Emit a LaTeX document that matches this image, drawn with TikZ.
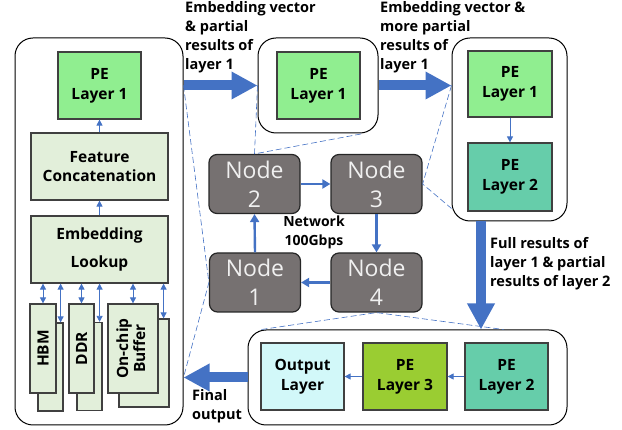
\documentclass[tikz,border=0pt]{standalone}
\usepackage{fontspec}
\usepackage{graphicx}
\setmainfont{Open Sans}
\usetikzlibrary{arrows.meta,positioning,calc}

\definecolor{linkblue}{HTML}{4472C4}
\definecolor{peone}{HTML}{90EE90}
\definecolor{petwo}{HTML}{66CDAA}
\definecolor{pethree}{HTML}{9ACD32}
\definecolor{outcyan}{HTML}{D2F8F9}
\definecolor{memgreen}{HTML}{E2EFDA}
\definecolor{nodegray}{HTML}{767171}

\begin{document}
\begin{tikzpicture}[
      x=1pt, y=-1pt,
      frame/.style = {
        draw=black,
        line width=1pt,
        rounded corners=18pt,
        inner sep=0pt
      },
      block/.style = {
        draw=black!75,
        line width=1.2pt,
        inner sep=0pt,
        align=center,
        minimum width=83pt,
        minimum height=67pt,
        font=\fontsize{15.5}{20}\selectfont\bfseries
      },
      unit/.style = {
        block,
        fill=memgreen,
        minimum width=137pt,
        font=\fontsize{15.5}{19}\selectfont\bfseries
      },
      mem/.style = {
        block,
        fill=memgreen,
        minimum height=89pt,
        font=\fontsize{15.5}{18}\selectfont\bfseries
      },
      server/.style = {
        draw=black!85,
        fill=nodegray,
        line width=1.2pt,
        rounded corners=8pt,
        minimum width=91pt,
        minimum height=59pt,
        inner sep=0pt,
        align=center,
        text=white!94!black,
        font=\fontsize{23}{29}\selectfont
      },
      caption/.style = {
        align=left,
        inner sep=0pt,
        anchor=north west,
        font=\fontsize{14.5}{19}\selectfont\bfseries
      },
      thin/.style = {
        draw=linkblue,
        line width=0.8pt,
        -{Triangle[length=6pt,width=6pt]}
      },
      both/.style = {
        thin,
        {Triangle[length=6pt,width=6pt]}-{Triangle[length=6pt,width=6pt]}
      },
      link/.style = {
        draw=linkblue,
        line width=2.4pt,
        -{Triangle[length=8pt,width=9pt]}
      },
      flow/.style = {
        draw=linkblue,
        line width=10pt,
        -{Triangle[length=26pt,width=26pt]}
      },
      zoomline/.style = {
        draw=linkblue,
        line width=0.6pt,
        dash pattern=on 6pt off 3pt
      }
    ]
    \useasboundingbox (0,0) rectangle (622,430);

    \node[frame, minimum width=168pt, minimum height=387pt] (host) at (99,231.5) {};
    \node[block, fill=peone] (peA) at (99.5,85.5) {PE\\Layer 1};
    \node[unit] (concat) at (99.5,166.5) {Feature\\Concatenation};
    \node[unit, font=\fontsize{15.5}{28}\selectfont\bfseries] (lookup) at (99.5,249.5) {Embedding\\Lookup};

    \node[mem, minimum width=25pt, minimum height=88pt] (hbmB) at (50.5,367) {};
    \node[mem, minimum width=25pt, minimum height=88pt] (ddrB) at (89.5,366.5) {};
    \node[mem, minimum width=50pt, minimum height=88pt] (bufB) at (144,363) {};
    \node[mem, minimum width=26pt] (hbm) at (43,348.5) {\rotatebox{90}{HBM}};
    \node[mem, minimum width=25pt] (ddr) at (81.5,348.5) {\rotatebox{90}{DDR}};
    \node[mem, minimum width=50pt] (buf) at (133,348.5)
      {\rotatebox{90}{\begin{tabular}{@{}c@{}}On-chip\\[-1pt]Buffer\end{tabular}}};

    \node[frame, minimum width=120pt, minimum height=95pt] (hopA) at (318,85.5) {};
    \node[block, fill=peone] (peB) at (318.5,85.5) {PE\\Layer 1};

    \node[frame, minimum width=115pt, minimum height=183pt] (hopB) at (509.5,129.5) {};
    \node[block, fill=peone, minimum width=84pt, minimum height=66pt] (peC) at (510,84) {PE\\Layer 1};
    \node[block, fill=petwo, minimum width=84pt, minimum height=68pt] (peD) at (510,177) {PE\\Layer 2};

    \node[frame, minimum width=319pt, minimum height=95pt] (hopC) at (407.5,377.5) {};
    \node[block, fill=outcyan] (outL) at (302.5,376.5) {Output\\Layer};
    \node[block, fill=pethree, minimum width=84pt] (peE) at (405,376.5) {PE\\Layer 3};
    \node[block, fill=petwo] (peF) at (506.5,376.5) {PE\\Layer 2};

    \node[server] (srv2) at (254.5,184) {Node\\2};
    \node[server] (srv3) at (376.5,184) {Node\\3};
    \node[server] (srv1) at (255,282.5) {Node\\1};
    \node[server] (srv4) at (376.5,282.5) {Node\\4};
    \node[align=center, inner sep=0pt, font=\fontsize{14}{19}\selectfont\bfseries] (net) at (314,232) {Network\\100Gbps};

    \node[caption] (capA) at (185,1) {Embedding vector\\\& partial\\results of\\layer 1};
    \node[caption] (capB) at (380,1) {Embedding vector \&\\more partial\\results of\\layer 1};
    \node[caption] (capC) at (490,237) {Full results of\\layer 1 \& partial\\results of layer 2};
    \node[caption] (capD) at (192,389) {Final\\output};

    \coordinate (downTop) at ($(hopB.south)+(-28.5,0)$);
    \coordinate (downEnd) at (downTop |- hopC.north);

    \draw[thin] (concat.north) -- (peA.south);
    \draw[thin] (lookup.north) -- (concat.south);
    \draw[both] (lookup.south -| hbm.north) -- (hbm.north);
    \draw[both] (lookup.south -| ddr.north) -- (ddr.north);
    \draw[both] (lookup.south -| buf.north) -- (buf.north);
    \draw[both] (lookup.south -| {$(hbmB.north east)+(-3,0)$}) -- ($(hbmB.north east)+(-3,0)$);
    \draw[both] (lookup.south -| {$(ddrB.north east)+(-3,0)$}) -- ($(ddrB.north east)+(-3,0)$);
    \draw[both] (lookup.south -| {$(bufB.north east)+(-6,0)$}) -- ($(bufB.north east)+(-6,0)$);
    \draw[thin] (peC.south) -- (peD.north);
    \draw[thin] (peF.west) -- (peE.east);
    \draw[thin] (peE.west) -- (outL.east);

    \draw[link] (srv2.east) -- (srv3.west);
    \draw[link] (srv3.south) -- (srv4.north);
    \draw[link] (srv4.west) -- (srv1.east);
    \draw[link] (srv1.north) -- (srv2.south);

    \draw[flow] (peA -| host.east) -- (hopA.west);
    \draw[flow] (hopA.east) -- (hopA.east -| hopB.west);
    \draw[flow] (downTop) -- (downEnd);
    \draw[flow] (hopC.west) -- (hopC.west -| host.east);

    \draw[zoomline] (peA -| host.east) -- (srv1.west) -- (hopC.west -| host.east);
    \draw[zoomline] (hopA.west) -- (srv2.north) -- ($(hopA.south east)+(-15,0)$);
    \draw[zoomline] (hopA.east -| hopB.west) -- (srv3.east) -- ($(hopB.south west)+(0,-13)$);
    \draw[zoomline] ($(hopC.north west)+(14,0)$) -- (srv4.south) -- ($(hopC.north east)+(-64,0)$);
  \end{tikzpicture}
\end{document}
